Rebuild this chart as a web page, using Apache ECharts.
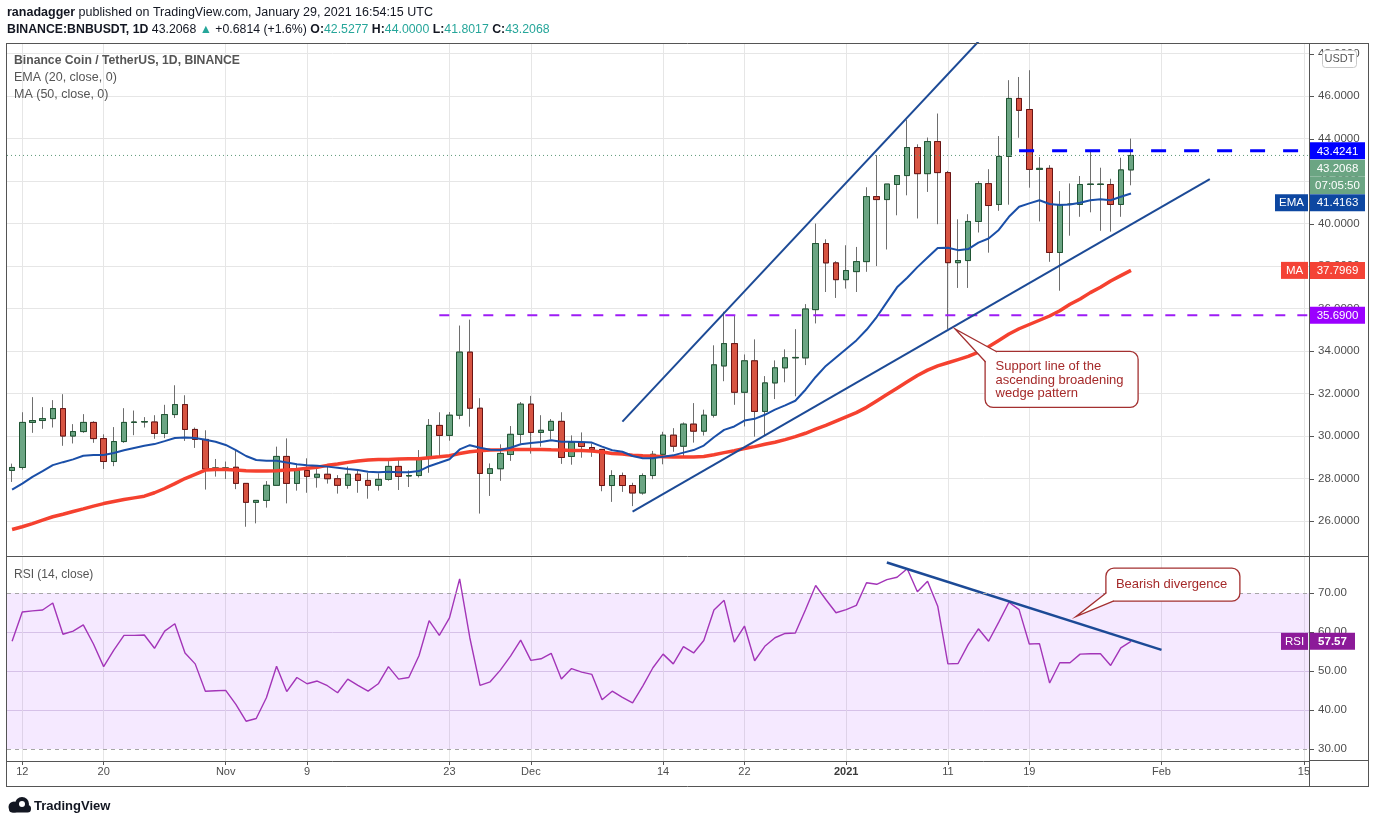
<!DOCTYPE html>
<html><head><meta charset="utf-8">
<script src="https://cdn.jsdelivr.net/npm/echarts@6/dist/echarts.min.js"></script>
<style>html,body{margin:0;padding:0;background:#fff;overflow:hidden}#c{width:1376px;height:824px}</style>
</head><body><div id="c"></div>
<script>
// ---------------- data ----------------
const startDate = '2020-10-11';
const axisEndDate = '2021-02-15';
const opens = [28.38,28.52,30.64,30.73,30.82,31.29,30.00,30.21,30.64,29.88,
 28.80,29.74,30.64,30.66,30.66,30.12,31.01,31.48,30.31,29.84,
 28.46,28.48,28.53,27.77,26.88,26.97,27.68,29.04,27.77,28.38,
 28.06,28.20,27.99,27.68,28.20,27.91,27.68,27.96,28.57,28.12,
 28.14,28.94,30.50,30.03,30.98,33.95,31.31,28.24,28.46,29.13,
 30.08,31.50,30.17,30.27,30.69,29.04,29.70,29.46,29.37,27.67,
 28.14,27.67,27.32,28.14,29.14,30.04,29.52,30.56,30.23,30.98,
 33.30,34.35,32.06,33.54,31.16,32.50,33.21,33.68,33.68,35.95,
 39.06,38.15,37.36,37.74,38.21,41.27,41.13,41.84,42.26,43.58,
 42.35,43.86,42.40,38.16,38.26,40.10,41.88,40.90,43.16,45.89,
 45.37,42.55,42.60,38.64,40.90,40.90,41.84,41.84,41.84,40.90,
 42.5277];
const highs = [28.70,31.12,31.83,31.36,31.69,31.97,30.56,31.03,30.70,30.08,
 30.42,31.31,31.20,30.89,30.98,31.47,32.39,31.92,30.40,30.27,
 28.92,28.80,29.34,27.77,26.97,27.88,29.50,29.89,28.67,28.95,
 28.48,28.63,28.16,28.56,28.40,28.27,28.24,28.82,28.87,28.38,
 29.34,30.80,31.12,31.13,35.20,35.48,31.78,28.71,29.61,30.47,
 31.60,31.89,30.98,30.80,31.12,30.03,30.17,29.65,29.37,28.39,
 28.28,27.80,28.24,29.30,30.20,30.37,30.64,31.55,31.24,34.27,
 35.85,35.66,33.84,34.55,32.82,33.56,34.08,35.03,36.21,40.00,
 39.26,38.23,38.98,38.90,41.71,43.22,41.86,42.26,44.89,43.73,
 44.05,45.18,42.48,40.20,40.44,42.00,42.56,44.12,46.75,46.90,
 47.22,43.13,42.75,41.53,41.89,42.24,43.46,42.63,42.11,43.10,
 44.00];
const lows = [27.84,28.42,30.15,30.34,30.40,29.54,29.65,30.15,29.68,28.45,
 28.58,29.68,30.04,30.40,29.87,29.90,30.85,29.77,29.44,27.48,
 28.09,27.98,27.50,25.73,25.89,26.63,27.68,26.83,27.43,27.33,
 27.57,27.76,27.29,27.52,27.33,27.05,27.43,27.90,27.46,27.60,
 28.05,28.27,29.02,29.78,30.79,30.44,26.35,27.18,27.89,28.83,
 29.65,29.17,29.50,29.84,28.69,28.65,28.98,29.02,27.40,26.90,
 27.37,26.70,27.24,27.97,28.67,29.26,29.03,29.69,30.02,30.87,
 32.58,31.47,30.45,29.97,30.02,31.74,32.53,31.87,33.34,35.30,
 36.78,36.50,36.94,36.78,37.73,38.00,38.78,40.39,41.33,40.24,
 41.49,39.97,35.04,36.97,36.97,39.58,38.63,40.60,40.89,44.04,
 41.69,40.10,38.20,36.84,39.43,40.32,40.53,39.66,39.62,40.32,
 41.8017];
const closes = [28.52,30.64,30.73,30.82,31.29,30.00,30.21,30.64,29.88,28.80,
 29.74,30.64,30.66,30.68,30.12,31.01,31.48,30.31,29.84,28.45,
 28.50,28.50,27.77,26.88,26.97,27.68,29.04,27.77,28.38,28.10,
 28.20,27.99,27.68,28.20,27.91,27.68,27.96,28.57,28.10,28.14,
 28.94,30.50,30.03,30.98,33.95,31.31,28.24,28.46,29.18,30.08,
 31.50,30.17,30.27,30.69,28.99,29.70,29.51,29.37,27.67,28.14,
 27.67,27.32,28.14,29.14,30.04,29.52,30.56,30.23,30.98,33.35,
 34.35,32.06,33.54,31.16,32.50,33.21,33.68,33.70,35.98,39.06,
 38.15,37.36,37.79,38.21,41.27,41.13,41.86,42.26,43.58,42.35,
 43.86,42.40,38.16,38.26,40.10,41.88,40.85,43.16,45.89,45.33,
 42.55,42.60,38.64,40.90,40.92,41.84,41.86,41.86,40.90,42.5254,
 43.2068];
const ema20 = [27.48,27.76,28.08,28.35,28.63,28.77,28.90,29.07,29.11,29.11,
 29.20,29.33,29.44,29.54,29.62,29.76,29.91,29.93,29.91,29.82,
 29.73,29.58,29.34,29.06,28.87,28.84,28.84,28.75,28.67,28.62,
 28.60,28.56,28.51,28.45,28.40,28.32,28.29,28.32,28.29,28.29,
 28.35,28.58,28.74,28.91,29.37,29.57,29.45,29.35,29.34,29.45,
 29.61,29.67,29.72,29.80,29.73,29.73,29.72,29.69,29.50,29.33,
 29.26,29.06,28.95,28.95,29.03,29.09,29.22,29.34,29.55,29.94,
 30.29,30.45,30.73,30.81,31.00,31.24,31.44,31.66,32.18,32.78,
 33.30,33.70,34.10,34.50,35.00,35.60,36.30,37.00,37.45,37.95,
 38.40,38.85,38.86,38.75,38.80,39.10,39.30,39.70,40.32,40.79,
 40.95,41.10,40.92,40.87,40.90,40.98,41.10,41.14,41.10,41.26,
 41.4163];
const ma50 = [25.60,25.73,25.88,26.04,26.20,26.32,26.45,26.57,26.70,26.82,
 26.92,27.01,27.09,27.17,27.33,27.53,27.76,28.00,28.20,28.40,
 28.42,28.42,28.40,28.37,28.35,28.35,28.37,28.40,28.43,28.48,
 28.53,28.62,28.68,28.76,28.82,28.87,28.90,28.90,28.92,28.93,
 28.93,28.98,29.02,29.07,29.18,29.26,29.31,29.34,29.35,29.37,
 29.37,29.37,29.37,29.35,29.34,29.32,29.32,29.29,29.25,29.18,
 29.15,29.10,29.07,29.06,29.03,29.01,29.01,29.01,29.04,29.12,
 29.22,29.31,29.41,29.50,29.61,29.71,29.83,29.97,30.13,30.32,
 30.50,30.70,30.90,31.10,31.35,31.65,31.95,32.25,32.55,32.85,
 33.10,33.30,33.45,33.60,33.75,33.95,34.20,34.50,34.80,35.05,
 35.25,35.45,35.65,35.90,36.20,36.45,36.75,37.00,37.30,37.55,
 37.7969];
const rsi14 = [57.6,65.1,65.4,65.6,67.4,59.4,60.2,61.8,56.9,51.1,
 55.3,59.1,59.1,59.2,55.8,60.2,62.1,54.6,51.8,44.8,
 44.9,45.0,41.4,37.1,37.8,43.1,51.2,44.7,48.3,46.7,
 47.4,46.2,44.4,47.9,46.3,44.8,46.7,51.1,47.9,48.3,
 53.9,62.9,59.1,63.6,73.6,58.5,46.3,47.2,50.2,53.8,
 57.9,52.7,53.1,54.5,47.9,50.6,49.7,49.1,42.6,44.8,
 43.2,41.8,46.1,50.8,54.3,51.8,56.2,54.6,57.8,65.6,
 68.1,57.4,61.5,52.6,56.3,58.5,59.6,59.7,65.7,71.9,
 68.3,64.9,65.7,66.8,72.6,72.2,73.4,74.0,76.2,70.3,
 73.0,66.6,51.8,51.9,56.8,60.8,57.6,62.5,67.6,65.7,
 56.9,57.0,46.9,52.1,52.1,54.3,54.4,54.4,51.4,55.9,
 57.57];
const tickDates = ['2020-10-12','2020-10-20','2020-11-01','2020-11-09','2020-11-23','2020-12-01','2020-12-14','2020-12-22','2021-01-01','2021-01-11','2021-01-19','2021-02-01','2021-02-15'];
const tickLabels = ['12','20','Nov','9','23','Dec','14','22','2021','11','19','Feb','15'];
const priceTicks = [26,28,30,32,34,36,38,40,42,44,46,48];
const rsiTicks = [30,40,50,60,70];
const rsiBand = [30,70];
const supportLevel = 35.69;
const supportFrom = '2020-11-22';
const resistanceLevel = 43.4241;
const resistanceFrom = '2021-01-18';
const wedgeUpper = [['2020-12-10', 30.68], ['2021-01-15', 49.08]];
const wedgeLower = [['2020-12-11', 26.44], ['2021-02-05T18:00', 42.09]];
const divergenceLine = [['2021-01-05', 77.8], ['2021-02-01', 55.4]];
const supportNoteAnchor = ['2021-01-11T17:00', 35.04];
const divergenceNoteAnchor = ['2021-01-23T14:00', 63.9];
const timerText = '07:05:50';

// ---------------- helpers ----------------
const DAY = 86400000;
const t0 = Date.parse(startDate + 'T00:00:00Z');
function dayIndex(s) { return (Date.parse(s.length > 10 ? s + 'Z' : s + 'T00:00:00Z') - t0) / DAY; }
const nDays = dayIndex(axisEndDate) + 1;
const categories = [];
for (let i = 0; i < nDays; i++) categories.push(new Date(t0 + i * DAY).toISOString().slice(0, 10));
const tickIdx = tickDates.map(dayIndex);
const ohlc = opens.map((o, i) => [o, closes[i], lows[i], highs[i]]);
const bodies = opens.map((o, i) => [o, closes[i], Math.min(o, closes[i]), Math.max(o, closes[i])]);
const toXY = pts => pts.map(p => [dayIndex(p[0]), p[1]]);

const FONT = "'Liberation Sans', Arial, sans-serif";
const GL = 7, GR = 1309, PT = 43, PH = 512, RT = 557, RH = 204;
const GRID_C = '#e6e6e6';

const chart = echarts.init(document.getElementById('c'), null, {renderer: 'canvas', width: 1376, height: 824});

const lineCommon = {symbol: 'none', showSymbol: false, silent: true, smooth: false, emphasis: {disabled: true}};

const option = {
  animation: false,
  backgroundColor: '#ffffff',
  textStyle: {fontFamily: FONT},
  grid: [
    {left: GL, top: PT, width: GR - GL, height: PH, containLabel: false, outerBoundsMode: 'none'},
    {left: GL, top: RT, width: GR - GL, height: RH, containLabel: false, outerBoundsMode: 'none'}
  ],
  xAxis: [
    {type: 'category', gridIndex: 0, data: categories, show: false, boundaryGap: true},
    {type: 'value', gridIndex: 0, min: -0.5, max: nDays - 0.5, axisLine: {show: false},
     axisTick: {show: false, customValues: tickIdx}, axisLabel: {show: false, customValues: tickIdx},
     splitLine: {show: true, lineStyle: {color: GRID_C, width: 1}}},
    {type: 'category', gridIndex: 1, data: categories, show: false, boundaryGap: true},
    {type: 'value', gridIndex: 1, min: -0.5, max: nDays - 0.5, position: 'bottom',
     axisLine: {show: true, onZero: false, lineStyle: {color: '#555', width: 1}},
     axisTick: {show: true, length: 4, customValues: tickIdx, lineStyle: {color: '#555'}},
     axisLabel: {show: true, customValues: tickIdx, color: '#4d4d4d', fontSize: 11, margin: 5,
       formatter: v => { const k = tickIdx.indexOf(Math.round(v)); if (k < 0) return ''; const s = tickLabels[k]; return /^\d{4}$/.test(s) ? '{y|' + s + '}' : s; },
       rich: {y: {fontWeight: 'bold', fontSize: 11, color: '#3a3a3a'}}},
     splitLine: {show: true, lineStyle: {color: GRID_C, width: 1}}}
  ],
  yAxis: [
    {type: 'value', gridIndex: 0, position: 'right', min: 24.4, max: 48.5, scale: true,
     axisLine: {show: false},
     axisTick: {show: false, customValues: priceTicks},
     axisLabel: {customValues: priceTicks, formatter: v => v.toFixed(4), color: '#4d4d4d', fontSize: 11.5, margin: 9},
     splitLine: {show: true, lineStyle: {color: GRID_C, width: 1}}},
    {type: 'value', gridIndex: 1, position: 'right', min: 26.9, max: 79.2, scale: true,
     axisLine: {show: false},
     axisTick: {show: false, customValues: rsiTicks},
     axisLabel: {customValues: rsiTicks, formatter: v => v.toFixed(2), color: '#4d4d4d', fontSize: 11.5, margin: 9},
     splitLine: {show: true, lineStyle: {color: ['rgba(0,0,0,0)', '#ddd3e6', '#ddd3e6', '#ddd3e6', 'rgba(0,0,0,0)'], width: 1}}}
  ],
  series: [
    Object.assign({type: 'line', name: 'MA 50', xAxisIndex: 0, yAxisIndex: 0, data: ma50, lineStyle: {color: '#f5412f', width: 3.5}}, lineCommon),
    Object.assign({type: 'line', name: 'EMA 20', xAxisIndex: 0, yAxisIndex: 0, data: ema20, lineStyle: {color: '#1a4fa8', width: 2}}, lineCommon),
    {type: 'candlestick', name: 'wicks', xAxisIndex: 0, yAxisIndex: 0, data: ohlc, barWidth: 6, silent: true,
     itemStyle: {color: '#6ba583', color0: '#d75442', borderColor: '#6e6e6e', borderColor0: '#6e6e6e', borderWidth: 1}},
    {type: 'candlestick', name: 'bodies', xAxisIndex: 0, yAxisIndex: 0, data: bodies, barWidth: 6, silent: true,
     itemStyle: {color: '#6ba583', color0: '#d75442', borderColor: '#1f5533', borderColor0: '#6a1414', borderWidth: 1}},
    Object.assign({type: 'line', name: 'last', xAxisIndex: 1, yAxisIndex: 0, data: [[-0.5, closes[closes.length - 1]], [nDays - 0.5, closes[closes.length - 1]]], lineStyle: {color: '#5e9a7a', width: 1, type: [1, 3]}}, lineCommon),
    Object.assign({type: 'line', name: 'support', xAxisIndex: 1, yAxisIndex: 0, data: [[dayIndex(supportFrom), supportLevel], [nDays, supportLevel]], lineStyle: {color: '#9d1cf5', width: 2, type: [10, 12]}}, lineCommon),
    Object.assign({type: 'line', name: 'resistance', xAxisIndex: 1, yAxisIndex: 0, data: [[dayIndex(resistanceFrom), resistanceLevel], [nDays, resistanceLevel]], lineStyle: {color: '#0000ff', width: 3, type: [15, 18]}}, lineCommon),
    Object.assign({type: 'line', name: 'wedge upper', xAxisIndex: 1, yAxisIndex: 0, data: toXY(wedgeUpper), lineStyle: {color: '#1c4a96', width: 2}}, lineCommon),
    Object.assign({type: 'line', name: 'wedge lower', xAxisIndex: 1, yAxisIndex: 0, data: toXY(wedgeLower), lineStyle: {color: '#1c4a96', width: 2}}, lineCommon),
    Object.assign({type: 'line', name: 'RSI', xAxisIndex: 2, yAxisIndex: 1, data: rsi14, lineStyle: {color: '#a335b8', width: 1.4},
      markArea: {silent: true, itemStyle: {color: 'rgba(155,39,255,0.1)'}, data: [[{yAxis: rsiBand[0]}, {yAxis: rsiBand[1]}]]},
      markLine: {silent: true, symbol: ['none', 'none'], label: {show: false}, lineStyle: {color: '#a6a6a6', type: [4, 4], width: 1}, data: [{yAxis: rsiBand[0]}, {yAxis: rsiBand[1]}]}}, lineCommon),
    Object.assign({type: 'line', name: 'divergence', xAxisIndex: 3, yAxisIndex: 1, data: toXY(divergenceLine), lineStyle: {color: '#1c4a96', width: 2.5}}, lineCommon)
  ]
};
chart.setOption(option);

// ---------------- decorations ----------------
const G = [];
const Z = 100;
function line(x1, y1, x2, y2, c, w, z) { G.push({type: 'line', z: z || Z, silent: true, shape: {x1, y1, x2, y2}, style: {stroke: c, lineWidth: w || 1}}); }
function rect(x, y, w, h, fill, stroke, r, z) { G.push({type: 'rect', z: z || Z, silent: true, shape: {x, y, width: w, height: h, r: r || 0}, style: {fill: fill, stroke: stroke || null, lineWidth: stroke ? 1 : 0}}); }
function text(x, y, t, font, fill, align, rich, z, lh) {
  const st = {text: t, font: font, fill: fill, align: align || 'left', verticalAlign: 'middle'};
  if (rich) st.rich = rich;
  if (lh) st.lineHeight = lh;
  G.push({type: 'text', z: z || Z + 1, silent: true, x, y, style: st});
}

// frame
const FC = '#555';
line(6, 43.5, 1369, 43.5, FC);
line(6.5, 43, 6.5, 787, FC);
line(1368.5, 43, 1368.5, 787, FC);
line(6, 786.5, 1369, 786.5, FC);
line(6, 556.5, 1369, 556.5, FC);
line(1309.5, 43, 1309.5, 787, FC);
line(1309, 760.5, 1369, 760.5, FC);

// axis ticks on the price / RSI scales
const py = v => chart.convertToPixel({yAxisIndex: 0}, v);
const ryf = v => chart.convertToPixel({yAxisIndex: 1}, v);
priceTicks.forEach(v => { const y = Math.round(py(v)) + 0.5; line(1310, y, 1314, y, FC); });
rsiTicks.forEach(v => { const y = Math.round(ryf(v)) + 0.5; line(1310, y, 1314, y, FC); });

// header
const n = closes.length;
const chg = closes[n - 1] - closes[n - 2];
const pct = chg / closes[n - 2] * 100;
const HF = 12.5;
text(7, 13, '{b|ranadagger} published on TradingView.com, January 29, 2021 16:54:15 UTC', `${HF}px ${FONT}`, '#131722', 'left',
  {b: {font: `bold ${HF}px ${FONT}`, fill: '#131722'}});
text(7, 29.5, `{b|BINANCE:BNBUSDT, 1D} ${closes[n - 1].toFixed(4)} {g|▲} +${chg.toFixed(4)} (+${pct.toFixed(1)}%) {b|O:}{g|${opens[n - 1].toFixed(4)}} {b|H:}{g|${highs[n - 1].toFixed(4)}} {b|L:}{g|${lows[n - 1].toFixed(4)}} {b|C:}{g|${closes[n - 1].toFixed(4)}}`,
  `12.3px ${FONT}`, '#131722', 'left',
  {b: {font: `bold 12.3px ${FONT}`, fill: '#131722'}, g: {font: `12.3px ${FONT}`, fill: '#26a69a'}});

// legends
text(14, 61, 'Binance Coin / TetherUS, 1D, BINANCE', `bold 12.2px ${FONT}`, '#555');
text(14, 78, 'EMA (20, close, 0)', `12.5px ${FONT}`, '#555');
text(14, 95, 'MA (50, close, 0)', `12.5px ${FONT}`, '#555');
text(14, 575, 'RSI (14, close)', `12px ${FONT}`, '#555');

// USDT box
rect(1322.5, 50.5, 34, 17, '#fff', '#c8c8c8', 3, Z + 2);
text(1339.5, 59, 'USDT', `11px ${FONT}`, '#555', 'center', null, Z + 3);

// price tags
const tags = [
  {v: resistanceLevel, t: resistanceLevel.toFixed(4), c: '#0000ff'},
  {v: closes[n - 1], t: closes[n - 1].toFixed(4), c: '#6ba583'},
  {v: closes[n - 1], t: timerText, c: '#6ba583'},
  {v: ema20[n - 1], t: ema20[n - 1].toFixed(4), c: '#0d47a1', tag: 'EMA', tw: 33},
  {v: ma50[n - 1], t: ma50[n - 1].toFixed(4), c: '#f44336', tag: 'MA', tw: 27},
  {v: supportLevel, t: supportLevel.toFixed(4), c: '#9b00ff'}
];
let prev = -1e9;
tags.forEach(o => {
  let y = Math.max(py(o.v), prev + 17.3);
  prev = y;
  rect(1310, y - 8.5, 55, 17, o.c, null, 0, Z + 4);
  text(1337.5, y + 0.5, o.t, `11.5px ${FONT}`, '#fff', 'center', null, Z + 5);
  if (o.tag) {
    rect(1309 - o.tw - 1, y - 8.5, o.tw, 17, o.c, null, 0, Z + 4);
    text(1309 - o.tw / 2 - 1, y + 0.5, o.tag, `11.5px ${FONT}`, '#fff', 'center', null, Z + 5);
  }
});
// RSI tag
const ry = ryf(rsi14[n - 1]);
rect(1310, ry - 8.5, 45, 17, '#8c1a99', null, 0, Z + 4);
text(1332.5, ry + 0.5, rsi14[n - 1].toFixed(2), `bold 11.5px ${FONT}`, '#fff', 'center', null, Z + 5);
rect(1281, ry - 8.5, 27, 17, '#8c1a99', null, 0, Z + 4);
text(1294.5, ry + 0.5, 'RSI', `11.5px ${FONT}`, '#fff', 'center', null, Z + 5);

// callouts
const NOTE_C = '#a33030';
function callout(tip, bx, by, bw, bh, a, b, lines, tx, ty, lh) {
  rect(bx, by, bw, bh, '#fff', NOTE_C, 8, Z + 6);
  G[G.length - 1].style.lineWidth = 1.3;
  G.push({type: 'polygon', z: Z + 7, silent: true, shape: {points: [tip, a, b]}, style: {fill: '#fff'}});
  G.push({type: 'polyline', z: Z + 8, silent: true, shape: {points: [a, tip, b]}, style: {stroke: NOTE_C, lineWidth: 1.3, fill: null}});
  text(tx, ty, lines.join('\n'), `13px ${FONT}`, '#a52a2a', 'left', null, Z + 9, lh);
}
const sTip = chart.convertToPixel({xAxisIndex: 1, yAxisIndex: 0}, [dayIndex(supportNoteAnchor[0]), supportNoteAnchor[1]]);
callout(sTip, sTip[0] + 30, sTip[1] + 22.5, 153, 56,
  [sTip[0] + 30.5, sTip[1] + 33], [sTip[0] + 42, sTip[1] + 23],
  ['Support line of the', 'ascending broadening', 'wedge pattern'], sTip[0] + 40.5, sTip[1] + 51, 13.5);
const dTip = chart.convertToPixel({xAxisIndex: 3, yAxisIndex: 1}, [dayIndex(divergenceNoteAnchor[0]), divergenceNoteAnchor[1]]);
callout(dTip, dTip[0] + 30, dTip[1] - 48.5, 134, 33,
  [dTip[0] + 30.5, dTip[1] - 24], [dTip[0] + 38, dTip[1] - 15.8],
  ['Bearish divergence'], dTip[0] + 40, dTip[1] - 32, 14);

// logo
G.push({type: 'circle', z: Z, silent: true, shape: {cx: 14, cy: 807, r: 5.5}, style: {fill: '#131722'}});
G.push({type: 'circle', z: Z, silent: true, shape: {cx: 22, cy: 804, r: 7}, style: {fill: '#131722'}});
rect(9, 805, 22, 7.5, '#131722', null, 3.5, Z);
G.push({type: 'circle', z: Z + 1, silent: true, shape: {cx: 22, cy: 804, r: 3}, style: {fill: '#fff'}});
text(34, 806, 'TradingView', `bold 13px ${FONT}`, '#131722');

chart.setOption({graphic: {elements: G}});
</script>
</body></html>
